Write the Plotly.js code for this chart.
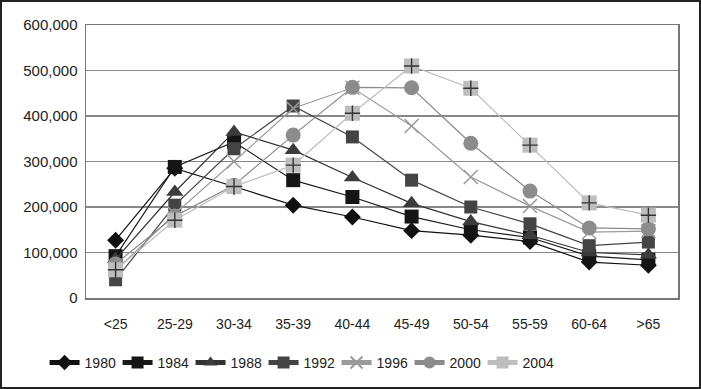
<!DOCTYPE html>
<html>
<head>
<meta charset="utf-8">
<script src="https://cdn.plot.ly/plotly-3.0.1.min.js"></script>
<style>
  html, body { margin: 0; padding: 0; background: #fff; }
  #wrap { width: 701px; height: 389px; box-sizing: border-box; border: 2px solid #222; }
  #chart { width: 697px; height: 385px; }
</style>
</head>
<body>
<div id="wrap"><div id="chart"></div></div>
<script>
const ageGroups = ['<25','25-29','30-34','35-39','40-44','45-49','50-54','55-59','60-64','>65'];
const yearNames = ['1980','1984','1988','1992','1996','2000','2004'];
const v1980 = [127000, 285000, 245000, 204000, 178000, 148000, 138000, 124000, 79000, 72000];
const v1984 = [92000, 288000, 343000, 259000, 222000, 179000, 150000, 133000, 92000, 84000];
const v1988 = [85000, 233000, 365000, 325000, 265000, 208000, 168000, 138000, 100000, 95000];
const v1992 = [40000, 204000, 328000, 422000, 354000, 259000, 200000, 163000, 115000, 123000];
const v1996 = [60000, 185000, 300000, 417000, 462000, 378000, 266000, 202000, 145000, 147000];
const v2000 = [75000, 180000, 248000, 358000, 463000, 462000, 340000, 235000, 154000, 152000];
const v2004 = [62000, 171000, 245000, 292000, 406000, 510000, 461000, 336000, 209000, 182000];
const yTickVals = [0, 100000, 200000, 300000, 400000, 500000, 600000];
const yTickText = ['0','100,000','200,000','300,000','400,000','500,000','600,000'];

const seriesValues = [v1980, v1984, v1988, v1992, v1996, v2000, v2004];
const styles = [
  {line: '#111111', marker: {symbol: 'diamond', size: 13, color: '#111111'}},
  {line: '#1a1a1a', marker: {symbol: 'square', size: 14, color: '#151515'}},
  {line: '#333333', marker: {symbol: 'triangle-up', size: 15, color: '#3c3c3c'}},
  {line: '#444444', marker: {symbol: 'square', size: 13, color: '#444444'}},
  {line: '#9a9a9a', marker: {symbol: 'x-thin-open', size: 14, color: '#9a9a9a', line: {color: '#9a9a9a', width: 1.5}}},
  {line: '#8a8a8a', marker: {symbol: 'circle', size: 15, color: '#8c8c8c'}},
  {line: '#bdbdbd', marker: {symbol: 'square', size: 15, color: '#bdbdbd'}}
];

const traces = seriesValues.map((vals, i) => ({
  type: 'scatter',
  mode: 'lines+markers',
  name: yearNames[i],
  x: ageGroups,
  y: vals,
  line: {color: styles[i].line, width: 1.2},
  marker: styles[i].marker,
  cliponaxis: false
}));
// dark plus drawn inside the 2004 squares
traces.push({
  type: 'scatter',
  mode: 'markers',
  name: '2004',
  showlegend: false,
  x: ageGroups,
  y: v2004,
  marker: {symbol: 'cross-thin-open', size: 11, color: '#333333', line: {color: '#333333', width: 1.4}},
  cliponaxis: false,
  hoverinfo: 'skip'
});

const layout = {
  width: 697,
  height: 385,
  margin: {l: 84, r: 21, t: 23, b: 89, autoexpand: false},
  paper_bgcolor: '#ffffff',
  plot_bgcolor: '#ffffff',
  showlegend: true,
  font: {family: 'Liberation Sans, Arial, sans-serif', color: '#222222', size: 15},
  xaxis: {
    type: 'category',
    range: [-0.5, 9.5],
    showgrid: false,
    showline: true,
    mirror: true,
    linecolor: '#777777',
    linewidth: 1.5,
    ticks: '',
    ticklabelstandoff: 13,
    tickfont: {size: 14, color: '#222'},
    zeroline: false
  },
  yaxis: {
    range: [0, 600000],
    tickvals: yTickVals,
    ticktext: yTickText,
    showgrid: true,
    gridcolor: '#888888',
    gridwidth: 1.2,
    showline: true,
    mirror: true,
    linecolor: '#777777',
    linewidth: 1.5,
    ticks: '',
    ticklabelstandoff: 4,
    tickfont: {size: 15, color: '#222'},
    zeroline: false
  },
  legend: {
    orientation: 'h',
    x: -0.07,
    xanchor: 'left',
    y: -0.238,
    yanchor: 'middle',
    itemsizing: 'constant',
    entrywidth: 28,
    entrywidthmode: 'pixels',
    traceorder: 'normal',
    font: {size: 14, color: '#222'}
  }
};

Plotly.newPlot('chart', traces, layout, {displayModeBar: false, staticPlot: true});
</script>
</body>
</html>
